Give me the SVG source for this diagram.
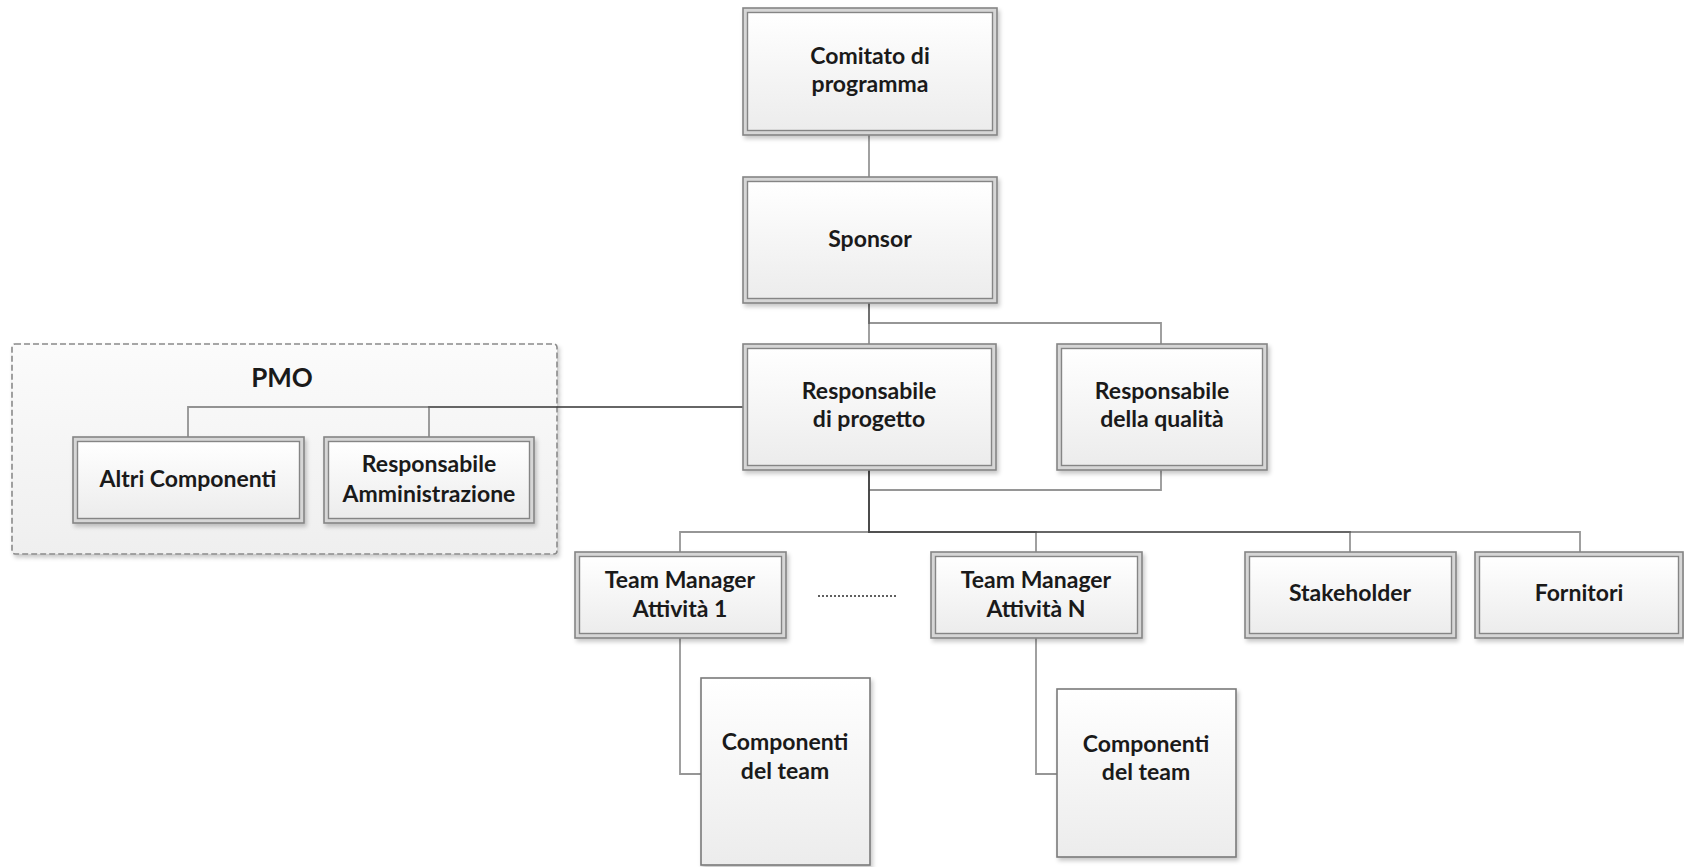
<svg xmlns="http://www.w3.org/2000/svg" width="1684" height="867" viewBox="0 0 1684 867">
<defs>
<linearGradient id="g" x1="0" y1="0" x2="0" y2="1">
<stop offset="0" stop-color="#ffffff"/>
<stop offset="1" stop-color="#ececec"/>
</linearGradient>
<linearGradient id="gp" x1="0" y1="0" x2="0" y2="1">
<stop offset="0" stop-color="#fbfbfb"/>
<stop offset="1" stop-color="#efefef"/>
</linearGradient>
<filter id="sh" x="-10%" y="-10%" width="120%" height="120%">
<feDropShadow dx="2" dy="3" stdDeviation="2" flood-color="#000" flood-opacity="0.22"/>
</filter>
</defs>
<style>
.o{fill:#d6d6d6;stroke:#858585;stroke-width:1.6;filter:url(#sh)}
.i{fill:url(#g);stroke:#858585;stroke-width:1.4}
.s{fill:url(#g);stroke:#7a7a7a;stroke-width:1.6;filter:url(#sh)}
.pmo{fill:url(#gp);stroke:#8a8a8a;stroke-width:1.6;stroke-dasharray:6 3;filter:url(#sh)}
text{font-family:Lato,"Liberation Sans",sans-serif;font-weight:700;font-size:23px;fill:#1a1a1a;text-anchor:middle}
.big{font-size:26px}
.c{fill:none;stroke:#404040;stroke-opacity:0.55;stroke-width:1.8}
.dots{fill:none;stroke:#606060;stroke-width:1.8;stroke-dasharray:2 2}
</style>
<rect id="pmo-box" class="pmo" x="12" y="344" width="545" height="210" rx="3"/>
<text x="282" y="387" class="big">PMO</text>
<g id="connectors">
<path class="c" d="M869 135V177"/>
<path class="c" d="M869 303V344"/>
<path class="c" d="M869 303V323H1161V344"/>
<path class="c" d="M1161 470V490H869"/>
<path class="c" d="M743 407H188V437"/>
<path class="c" d="M743 407H429V437"/>
<path class="c" d="M869 470V532H680V552"/>
<path class="c" d="M869 470V532H1036V552"/>
<path class="c" d="M869 470V532H1350V552"/>
<path class="c" d="M869 470V532H1580V552"/>
<path class="c" d="M680 638V774H701"/>
<path class="c" d="M1036 638V774H1057"/>
<path class="dots" d="M818 596H897"/>
</g>
<g id="comitato">
<rect class="o" x="743" y="8" width="254" height="127"/>
<rect class="i" x="747.5" y="12.5" width="245" height="118"/>
<text x="870" y="64">Comitato di</text>
<text x="870" y="92">programma</text>
</g>
<g id="sponsor">
<rect class="o" x="743" y="177" width="254" height="126"/>
<rect class="i" x="747.5" y="181.5" width="245" height="117"/>
<text x="870" y="247">Sponsor</text>
</g>
<g id="resp-progetto">
<rect class="o" x="743" y="344" width="253" height="126"/>
<rect class="i" x="747.5" y="348.5" width="244" height="117"/>
<text x="869" y="399">Responsabile</text>
<text x="869" y="427">di progetto</text>
</g>
<g id="resp-qualita">
<rect class="o" x="1057" y="344" width="210" height="126"/>
<rect class="i" x="1061.5" y="348.5" width="201" height="117"/>
<text x="1162" y="399">Responsabile</text>
<text x="1162" y="427">della qualità</text>
</g>
<g id="altri-componenti">
<rect class="o" x="73" y="437" width="231" height="86"/>
<rect class="i" x="77.5" y="441.5" width="222" height="77"/>
<text x="188" y="487">Altri Componenti</text>
</g>
<g id="resp-amministrazione">
<rect class="o" x="324" y="437" width="210" height="86"/>
<rect class="i" x="328.5" y="441.5" width="201" height="77"/>
<text x="429" y="472">Responsabile</text>
<text x="429" y="502">Amministrazione</text>
</g>
<g id="team-manager-1">
<rect class="o" x="575" y="552" width="211" height="86"/>
<rect class="i" x="579.5" y="556.5" width="202" height="77"/>
<text x="680" y="588">Team Manager</text>
<text x="680" y="617">Attività 1</text>
</g>
<g id="team-manager-n">
<rect class="o" x="931" y="552" width="211" height="86"/>
<rect class="i" x="935.5" y="556.5" width="202" height="77"/>
<text x="1036" y="588">Team Manager</text>
<text x="1036" y="617">Attività N</text>
</g>
<g id="stakeholder">
<rect class="o" x="1245" y="552" width="211" height="86"/>
<rect class="i" x="1249.5" y="556.5" width="202" height="77"/>
<text x="1350" y="601">Stakeholder</text>
</g>
<g id="fornitori">
<rect class="o" x="1475" y="552" width="208" height="86"/>
<rect class="i" x="1479.5" y="556.5" width="199" height="77"/>
<text x="1579" y="601">Fornitori</text>
</g>
<g id="componenti-1">
<rect class="s" x="701" y="678" width="169" height="187"/>
<text x="785" y="750">Componenti</text>
<text x="785" y="779">del team</text>
</g>
<g id="componenti-n">
<rect class="s" x="1057" y="689" width="179" height="168"/>
<text x="1146" y="752">Componenti</text>
<text x="1146" y="780">del team</text>
</g>
</svg>
